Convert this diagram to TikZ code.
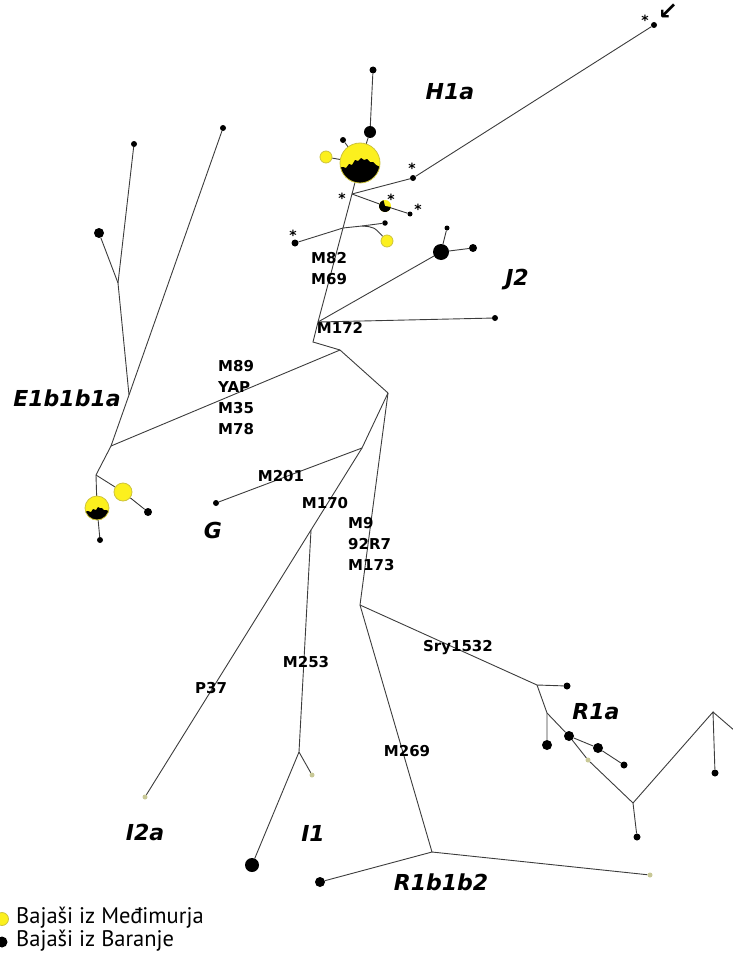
\documentclass[tikz,border=0pt]{standalone}
\usepackage{fontspec}
\usetikzlibrary{backgrounds}
\newfontfamily\djv{DejaVu Sans}
\newfontfamily\ptsans{PT Sans}
\newcommand\hapfont{\djv\bfseries\itshape\fontsize{22}{24}\selectfont}
\newcommand\mutfont{\djv\bfseries\fontsize{15}{21}\selectfont}
\newcommand\legfont{\ptsans\fontsize{22.5}{24}\selectfont}
\definecolor{hapyel}{RGB}{252,240,30}
\definecolor{hapyelline}{RGB}{205,195,60}
\definecolor{pale}{RGB}{200,200,150}
\definecolor{edgecol}{RGB}{60,60,60}
\tikzset{
  edge/.style={draw=edgecol, line width=0.9pt},
  bdot/.style={circle, fill=black, inner sep=0pt, minimum size=#1},
  ydot/.style={circle, fill=hapyel, draw=hapyelline, line width=0.8pt, inner sep=0pt, minimum size=#1},
  gdot/.style={circle, fill=pale, inner sep=0pt, minimum size=5pt},
  ring/.style={circle, inner sep=0pt, minimum size=#1},
  hap/.style={font=\hapfont, inner sep=0pt},
  mut/.style={font=\mutfont, inner sep=0pt, align=left},
  star/.style={font=\djv\bfseries\fontsize{14}{14}\selectfont, inner sep=0pt},
  leg/.style={font=\legfont, anchor=west, inner sep=0pt}
}
\begin{document}
\begin{tikzpicture}[x=1pt,y=-1pt]
\useasboundingbox (0,0) rectangle (733,966);

% ---------- H1a cluster ----------
% large mixed circle: yellow top, black ragged bottom
\fill[hapyel] (360,163) circle (20);
\begin{scope}
  \clip (360,163) circle (20);
  \begin{scope}[shift={(360,163)}]
    \fill[black] (-24,5) -- (-17,4) -- (-14,5) -- (-11,1) -- (-8,2) -- (-5,-3) -- (-2,-2)
      -- (1,-5) -- (4,-3) -- (7,-4) -- (10,-1) -- (13,-1) -- (16,2) -- (20,4) -- (24,5)
      -- (24,24) -- (-24,24) -- cycle;
  \end{scope}
\end{scope}
\draw[hapyelline, line width=0.8pt] (360,163) circle (20);
\node[ring=40pt] (h1c) at (360,163) {};

\node[bdot=12pt] (h1up) at (370,132) {};
\node[bdot=7pt] (h1top) at (373,70) {};
\node[bdot=6pt] (h1l) at (343,140) {};
\node[ydot=12pt] (h1y) at (326,157) {};
\node[bdot=6pt] (h1r) at (413,178) {};
\node[bdot=6pt] (h1far) at (654,25) {};
\node[bdot=5pt] (h1d) at (410,214) {};
\node[bdot=7pt] (h1ll) at (295,243) {};
\node[bdot=5.5pt] (h1s) at (385,223) {};
\node[ydot=12pt] (h1y2) at (387,241) {};

% small mixed circle
\fill[hapyel] (385,206) circle (6);
\fill[black] (385,206) -- ++(10:6) arc (10:255:6) -- cycle;
\node[ring=12pt] (h1m) at (385,206) {};

% ---------- J2 cluster ----------
\node[bdot=16pt] (j2big) at (441,252) {};
\node[bdot=8pt] (j2r) at (473,248) {};
\node[bdot=5pt] (j2u) at (447,228) {};
\node[bdot=6pt] (j2far) at (495,318) {};

% ---------- E1b1b1a cluster ----------
\node[bdot=6pt] (eR) at (223,128) {};
\node[bdot=6pt] (eL) at (134,144) {};
\node[bdot=10pt] (eB) at (99,233) {};
\fill[hapyel] (97,508) circle (12);
\begin{scope}
  \clip (97,508) circle (12);
  \begin{scope}[shift={(97,508)}]
    \fill[black] (-14,4) -- (-9,3) -- (-6,4) -- (-4,1) -- (-1,2) -- (1,-1) -- (3,0)
      -- (5,0) -- (7,2) -- (9,2) -- (14,4) -- (14,14) -- (-14,14) -- cycle;
  \end{scope}
\end{scope}
\draw[hapyelline, line width=0.8pt] (97,508) circle (12);
\node[ring=24pt] (eMix) at (97,508) {};
\node[ydot=18pt] (eY) at (123,492) {};
\node[bdot=8pt] (eY2) at (148,512) {};
\node[bdot=6pt] (eDn) at (100,540) {};

% ---------- G, I, R ----------
\node[bdot=6pt] (gDot) at (216,503) {};
\node[gdot] (i2a) at (145,797) {};
\node[gdot] (i1a) at (312,775) {};
\node[bdot=14pt] (i1b) at (252,865) {};
\node[bdot=10pt] (rbL) at (320,882) {};
\node[gdot] (rbR) at (650,875) {};
\node[bdot=7pt] (ra1) at (567,686) {};
\node[bdot=10pt] (ra2) at (547,745) {};
\node[bdot=10pt] (ra3) at (569,736) {};
\node[bdot=10pt] (ra4) at (598,748) {};
\node[bdot=7pt] (ra5) at (624,765) {};
\node[gdot] (ra6) at (588,760) {};
\node[bdot=7pt] (ra7) at (637,837) {};
\node[bdot=7pt] (ra8) at (715,773) {};

% junctions of the tree
\coordinate (hj) at (352,194);
\coordinate (hx) at (343,228);
\coordinate (hb) at (362,226);
\coordinate (tj) at (318,322);
\coordinate (tb) at (313,342);
\coordinate (ej) at (340,350);
\coordinate (mj) at (388,393);
\coordinate (gj) at (362,448);
\coordinate (ij) at (311,530);
\coordinate (i1j) at (299,752);
\coordinate (rj) at (360,605);
\coordinate (sj) at (537,685);
\coordinate (sk) at (547,713);
\coordinate (rk) at (633,803);
\coordinate (rt) at (713,712);
\coordinate (re) at (735,731);
\coordinate (bj) at (432,852);
\coordinate (ea) at (111,446);
\coordinate (eb) at (129,395);
\coordinate (ec) at (118,283);
\coordinate (ed) at (96,475);

\begin{scope}[on background layer]
  \path[edge] (h1c) -- (h1up) -- (h1top);
  \path[edge] (h1c) -- (h1l);
  \path[edge] (h1c) -- (h1y);
  \path[edge] (h1c) -- (hj);
  \path[edge] (hj) -- (h1r) -- (h1far);
  \path[edge] (hj) -- (h1m) -- (h1d);
  \path[edge] (h1ll) -- (hx) -- (hb) -- (h1s);
  \path[edge] (hb) .. controls (374,227) .. (h1y2);
  \path[edge] (hj) -- (hx) -- (tj) -- (tb) -- (ej) -- (mj);
  \path[edge] (tj) -- (j2big);
  \path[edge] (j2big) -- (j2r);
  \path[edge] (j2big) -- (j2u);
  \path[edge] (tj) -- (j2far);
  \path[edge] (ej) -- (ea);
  \path[edge] (eR) -- (eb) -- (ea) -- (ed);
  \path[edge] (eL) -- (ec) -- (eb);
  \path[edge] (eB) -- (ec);
  \path[edge] (ed) -- (eMix) -- (eDn);
  \path[edge] (ed) -- (eY) -- (eY2);
  \path[edge] (mj) -- (gj) -- (gDot);
  \path[edge] (gj) -- (ij) -- (i2a);
  \path[edge] (ij) -- (i1j) -- (i1a);
  \path[edge] (i1j) -- (i1b);
  \path[edge] (mj) -- (rj) -- (sj) -- (ra1);
  \path[edge] (sj) -- (sk) -- (ra2);
  \path[edge] (sk) -- (ra3) -- (ra6) -- (rk) -- (ra7);
  \path[edge] (ra3) -- (ra4) -- (ra5);
  \path[edge] (rk) -- (rt) -- (ra8);
  \path[edge] (rt) -- (re);
  \path[edge] (rj) -- (bj) -- (rbL);
  \path[edge] (bj) -- (rbR);
\end{scope}

% asterisks and the pointer
\node[star] (s1) at (412,168) {*};
\node[star] (s2) at (342,198) {*};
\node[star] (s3) at (391,199) {*};
\node[star] (s4) at (418,209) {*};
\node[star] (s5) at (293,235) {*};
\node[star] (s6) at (645,20) {*};
\node[font=\djv\bfseries\fontsize{24}{24}\selectfont, inner sep=0pt] (ptr) at (668,12) {↙};

% haplogroup names
\node[hap] (lH1a) at (450,92) {H1a};
\node[hap] (lJ2) at (517,280) {J2};
\node[hap] (lE) at (67,398) {E1b1b1a};
\node[hap] (lG) at (213,530) {G};
\node[hap] (lI2a) at (145,832) {I2a};
\node[hap] (lI1) at (313,833) {I1};
\node[hap] (lR1b) at (441,882) {R1b1b2};
\node[hap] (lR1a) at (596,712) {R1a};

% mutation labels
\node[mut, anchor=north west] (m82) at (311,252) {M82\\M69};
\node[mut] (m172) at (340,328) {M172};
\node[mut, anchor=north west] (m89) at (218,360) {M89\\YAP\\M35\\M78};
\node[mut] (m201) at (281,476) {M201};
\node[mut] (m170) at (325,503) {M170};
\node[mut, anchor=north west] (m9) at (348,517) {M9\\92R7\\M173};
\node[mut] (m253) at (306,662) {M253};
\node[mut] (p37) at (211,688) {P37};
\node[mut] (sry) at (458,648) {Sry1532};
\node[mut] (m269) at (407,751) {M269};

% legend
\node[ydot=13pt] (kY) at (2,919) {};
\node[bdot=11pt] (kB) at (2,942) {};
\node[leg] (kYt) at (16,918) {Bajaši iz Međimurja};
\node[leg] (kBt) at (16,941) {Bajaši iz Baranje};
\end{tikzpicture}
\end{document}
